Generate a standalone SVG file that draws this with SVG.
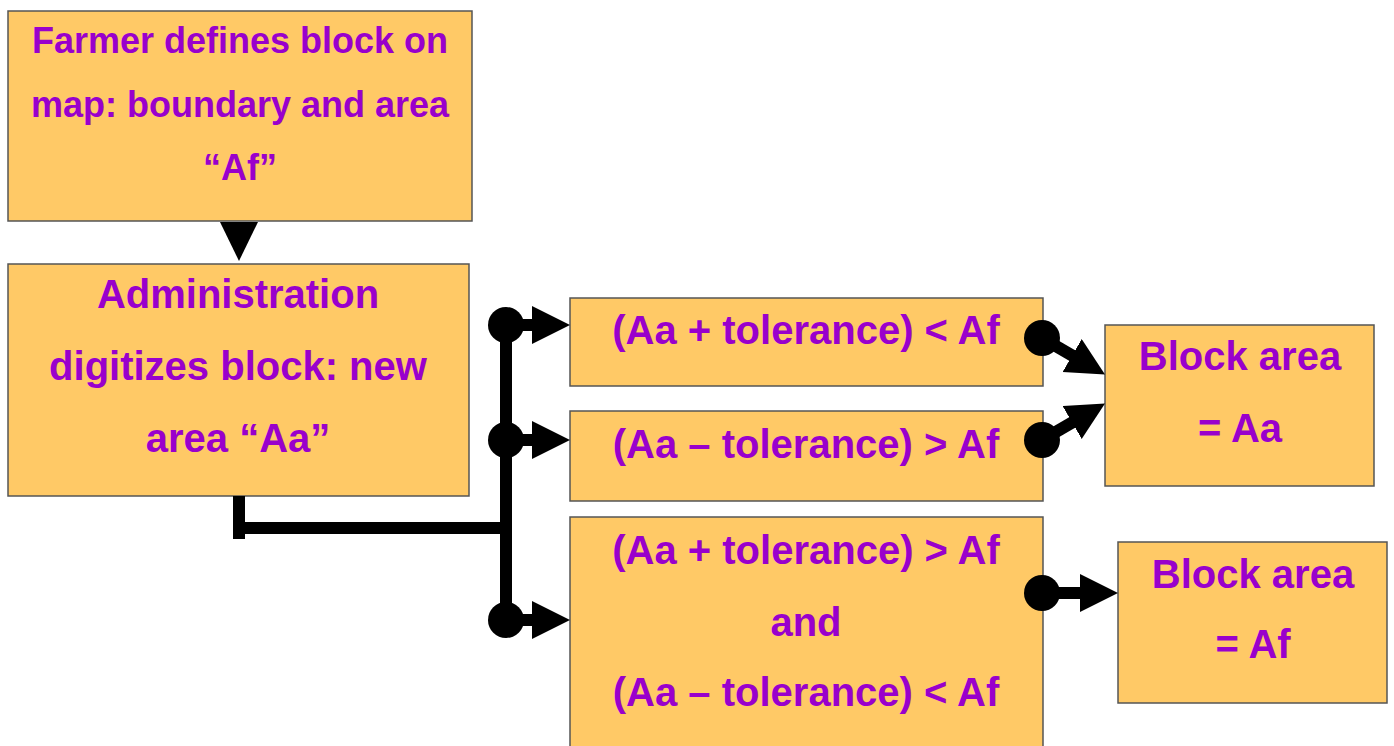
<svg xmlns="http://www.w3.org/2000/svg" width="1394" height="746" viewBox="0 0 1394 746">
<style>
.box{fill:#FFC966;stroke:#555;stroke-width:1.5}
.t{font-family:"Liberation Sans",Arial,sans-serif;font-weight:bold;fill:#9900CC;text-anchor:middle}
.t36{font-size:36px}
.t40{font-size:40px}
.ln{stroke:#000;stroke-width:12;fill:none}
</style>
<defs>
<marker id="ah" markerUnits="userSpaceOnUse" markerWidth="40" markerHeight="40" refX="1" refY="19" orient="auto">
<path d="M0,0 L38,19 L0,38 z" fill="#000"/>
</marker>
</defs>
<rect width="1394" height="746" fill="#fff"/>
<g id="n1">
<rect class="box" x="8" y="11" width="464" height="210"/>
<text class="t t36" x="240" y="53">Farmer defines block on</text>
<text class="t t36" x="240" y="117">map: boundary and area</text>
<text class="t t36" x="240" y="180">“Af”</text>
</g>
<g id="n2">
<rect class="box" x="8" y="264" width="461" height="232"/>
<text class="t t40" x="238" y="308">Administration</text>
<text class="t t40" x="238" y="380">digitizes block: new</text>
<text class="t t40" x="238" y="452">area “Aa”</text>
</g>
<g id="n3">
<rect class="box" x="570" y="298" width="473" height="88"/>
<text class="t t40" x="806" y="344">(Aa + tolerance) &lt; Af</text>
</g>
<g id="n4">
<rect class="box" x="570" y="411" width="473" height="90"/>
<text class="t t40" x="806" y="458">(Aa – tolerance) &gt; Af</text>
</g>
<g id="n5">
<rect class="box" x="570" y="517" width="473" height="245"/>
<text class="t t40" x="806" y="564">(Aa + tolerance) &gt; Af</text>
<text class="t t40" x="806" y="636">and</text>
<text class="t t40" x="806" y="706">(Aa – tolerance) &lt; Af</text>
</g>
<g id="n6">
<rect class="box" x="1105" y="325" width="269" height="161"/>
<text class="t t40" x="1240" y="370">Block area</text>
<text class="t t40" x="1240" y="442">= Aa</text>
</g>
<g id="n7">
<rect class="box" x="1118" y="542" width="269" height="161"/>
<text class="t t40" x="1253" y="588">Block area</text>
<text class="t t40" x="1253" y="658">= Af</text>
</g>
<g id="connectors">
<polygon points="220,222 258,222 239,261" fill="#000"/>
<line class="ln" x1="239" y1="496" x2="239" y2="539"/>
<line class="ln" x1="233" y1="528" x2="506" y2="528"/>
<line class="ln" x1="506" y1="325" x2="506" y2="620"/>
<circle cx="506" cy="325" r="18" fill="#000"/>
<circle cx="506" cy="440" r="18" fill="#000"/>
<circle cx="506" cy="620" r="18" fill="#000"/>
<line class="ln" x1="506" y1="325" x2="533" y2="325" marker-end="url(#ah)"/>
<line class="ln" x1="506" y1="440" x2="533" y2="440" marker-end="url(#ah)"/>
<line class="ln" x1="506" y1="620" x2="533" y2="620" marker-end="url(#ah)"/>
<circle cx="1042" cy="338" r="18" fill="#000"/>
<circle cx="1042" cy="440" r="18" fill="#000"/>
<circle cx="1042" cy="593" r="18" fill="#000"/>
<line class="ln" x1="1042" y1="338" x2="1073" y2="356" marker-end="url(#ah)"/>
<line class="ln" x1="1042" y1="440" x2="1073" y2="422" marker-end="url(#ah)"/>
<line class="ln" x1="1042" y1="593" x2="1081" y2="593" marker-end="url(#ah)"/>
</g>
</svg>
